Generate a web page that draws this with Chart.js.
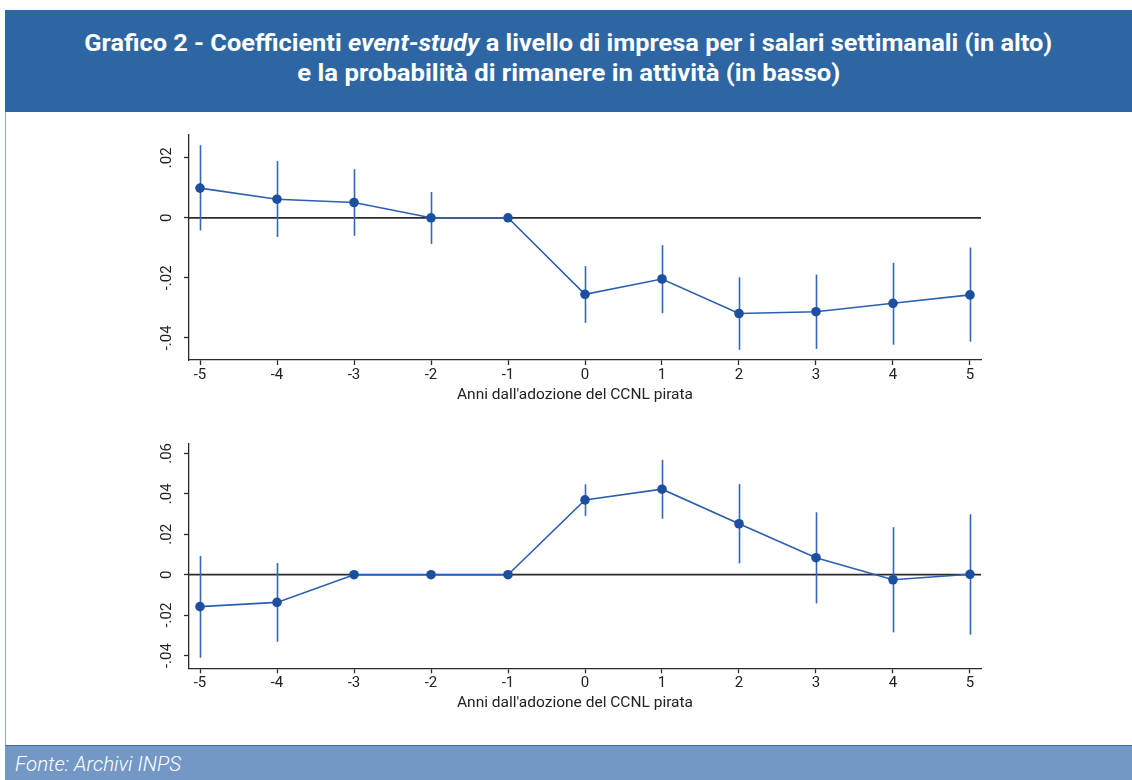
<!DOCTYPE html>
<html lang="it">
<head>
<meta charset="utf-8">
<title>Grafico 2</title>
<script src="https://cdn.jsdelivr.net/npm/chart.js@4.4.1/dist/chart.umd.min.js"></script>
<style>
  html, body { margin: 0; padding: 0; }
  body { width: 1132px; height: 780px; background: #ffffff; position: relative; overflow: hidden; font-family: Roboto, "Open Sans", sans-serif; }
  #head { position: absolute; left: 5px; top: 10px; width: 1127px; height: 102px; background: #2e66a4; color: #ffffff; }
  .tline { position: absolute; left: 0; width: 100%; text-align: center; white-space: nowrap; }
  .tline span.fit { display: inline-block; font-weight: 700; font-size: 24px; line-height: 30px; transform-origin: 50% 50%; }
  #l1 { top: 18px; }
  #l2 { top: 48px; }
  #frame { position: absolute; left: 5px; top: 112px; width: 1px; height: 633px; background: #8eaed6; }
  #foot { position: absolute; left: 5px; top: 745px; width: 1127px; height: 35px; background: #7398c6; border-top: 1px solid #3d6ca8; box-sizing: border-box; }
  #foot span.fit { position: absolute; left: 10px; top: 5px; display: inline-block; font-style: italic; font-weight: 300; font-size: 21px; line-height: 26px; color: #ffffff; transform-origin: 0 50%; white-space: nowrap; }
  canvas { position: absolute; left: 0; }
  #top { top: 120px; }
  #bottom { top: 420px; }
</style>
</head>
<body>
<div id="head">
  <div class="tline" id="l1"><span class="fit" data-w="968">Grafico 2 - Coefficienti <i>event-study</i> a livello di impresa per i salari settimanali (in alto)</span></div>
  <div class="tline" id="l2"><span class="fit" data-w="543">e la probabilità di rimanere in attività (in basso)</span></div>
</div>
<div id="frame"></div>
<canvas id="top" width="1132" height="290"></canvas>
<canvas id="bottom" width="1132" height="300"></canvas>
<div id="foot"><span class="fit" data-w="166">Fonte: Archivi INPS</span></div>

<script>
// Years relative to the adoption of the "pirate" collective agreement
const years = [-5, -4, -3, -2, -1, 0, 1, 2, 3, 4, 5];

// Top panel: weekly wages (firm-level event-study coefficients, 95% CI)
const wageCoef = [0.0099, 0.0062, 0.0051, 0, 0, -0.0255, -0.0204, -0.0319, -0.0313, -0.0285, -0.0257];
const wageLow  = [-0.0042, -0.0064, -0.0060, -0.0087, null, -0.0350, -0.0318, -0.0440, -0.0437, -0.0423, -0.0413];
const wageHigh = [0.0242, 0.0189, 0.0162, 0.0086, null, -0.0161, -0.0091, -0.0198, -0.0189, -0.0150, -0.0099];

// Bottom panel: probability of remaining active
const survCoef = [-0.0158, -0.0137, 0, 0, 0, 0.0370, 0.0423, 0.0252, 0.0084, -0.0025, 0.0002];
const survLow  = [-0.0411, -0.0332, null, null, null, 0.0290, 0.0277, 0.0056, -0.0142, -0.0285, -0.0297];
const survHigh = [0.0093, 0.0058, null, null, null, 0.0447, 0.0568, 0.0449, 0.0309, 0.0235, 0.0299];

// Y axis ticks and their labels
const wageTicks = [-0.04, -0.02, 0, 0.02];
const wageTickLabels = ['-.04', '-.02', '0', '.02'];
const survTicks = [-0.04, -0.02, 0, 0.02, 0.04, 0.06];
const survTickLabels = ['-.04', '-.02', '0', '.02', '.04', '.06'];

const xTitle = "Anni dall'adozione del CCNL pirata";

// Squeeze header/footer text to the width of the condensed house font
document.querySelectorAll('span.fit').forEach(el => {
  const target = parseFloat(el.dataset.w);
  const w = el.getBoundingClientRect().width;
  if (w > 0) el.style.transform = 'scaleX(' + (target / w).toFixed(4) + ')';
});

const AXIS = '#2b2b2b';
const LINE = '#2c5fb0';
const DOT = '#1d4f9f';
const CI = '#3467b6';
const FONT = 'Roboto, "Open Sans", sans-serif';

// Zero reference line, confidence spikes, rotated y tick labels and axis title
function makeOverlay(low, high, ticks, tickLabels) {
  return {
    id: 'overlay',
    beforeDatasetsDraw(chart) {
      const { ctx, chartArea: a, scales: { x, y } } = chart;
      ctx.save();
      const y0 = y.getPixelForValue(0);
      ctx.strokeStyle = AXIS;
      ctx.lineWidth = 1.7;
      ctx.beginPath();
      ctx.moveTo(a.left, y0);
      ctx.lineTo(a.right, y0);
      ctx.stroke();
      ctx.strokeStyle = CI;
      ctx.lineWidth = 1.6;
      years.forEach((yr, i) => {
        if (low[i] == null || high[i] == null) return;
        const px = Math.round(x.getPixelForValue(yr)) + 0.5;
        ctx.beginPath();
        ctx.moveTo(px, y.getPixelForValue(low[i]));
        ctx.lineTo(px, y.getPixelForValue(high[i]));
        ctx.stroke();
      });
      ctx.restore();
    },
    afterDraw(chart) {
      const { ctx, chartArea: a, scales: { y } } = chart;
      ctx.save();
      ctx.fillStyle = '#222222';
      ctx.font = '15px ' + FONT;
      ctx.textAlign = 'center';
      ctx.textBaseline = 'middle';
      ticks.forEach((v, i) => {
        ctx.save();
        ctx.translate(a.left - 22, y.getPixelForValue(v));
        ctx.rotate(-Math.PI / 2);
        ctx.fillText(tickLabels[i], 0, 0);
        ctx.restore();
      });
      // x axis title, centred on the whole graph region (labels included)
      ctx.font = '15.5px ' + FONT;
      ctx.fillText(xTitle, (a.left - 20 + a.right) / 2, a.bottom + 35);
      ctx.restore();
    }
  };
}

function makePanel(canvasId, coef, low, high, yMin, yMax, ticks, tickLabels, pad) {
  const points = years.map((yr, i) => ({ x: yr, y: coef[i] }));
  return new Chart(document.getElementById(canvasId), {
    type: 'line',
    data: {
      datasets: [{
        data: points,
        borderColor: LINE,
        borderWidth: 1.6,
        pointRadius: 4.8,
        pointBackgroundColor: DOT,
        pointBorderColor: DOT,
        pointBorderWidth: 0,
        tension: 0,
        fill: false
      }]
    },
    options: {
      responsive: false,
      animation: false,
      devicePixelRatio: 1,
      layout: { padding: pad },
      plugins: { legend: { display: false }, tooltip: { enabled: false } },
      scales: {
        x: {
          type: 'linear',
          min: -5.143,
          max: 5.143,
          afterBuildTicks: s => { s.ticks = years.map(v => ({ value: v })); },
          afterFit: s => { s.height = 43.4; },
          ticks: {
            color: '#222222',
            font: { family: FONT, size: 15 },
            padding: 1,
            maxRotation: 0,
            callback: v => String(v)
          },
          grid: { drawOnChartArea: false, drawTicks: true, tickLength: 5, color: AXIS, tickWidth: 1.3 },
          border: { display: true, color: AXIS, width: 1.3 },
          title: { display: false }
        },
        y: {
          type: 'linear',
          min: yMin,
          max: yMax,
          afterBuildTicks: s => { s.ticks = ticks.map(v => ({ value: v })); },
          afterFit: s => { s.width = 60; },
          ticks: { display: false },
          grid: { drawOnChartArea: false, drawTicks: true, tickLength: 5, color: AXIS, tickWidth: 1.3 },
          border: { display: true, color: AXIS, width: 1.3 }
        }
      }
    },
    plugins: [makeOverlay(low, high, ticks, tickLabels)]
  });
}

makePanel('top', wageCoef, wageLow, wageHigh, -0.0474, 0.0276, wageTicks, wageTickLabels,
  { left: 129, right: 151, top: 15, bottom: 6.6 });
makePanel('bottom', survCoef, survLow, survHigh, -0.0463, 0.0650, survTicks, survTickLabels,
  { left: 129, right: 151, top: 23.3, bottom: 8.3 });
</script>
</body>
</html>
